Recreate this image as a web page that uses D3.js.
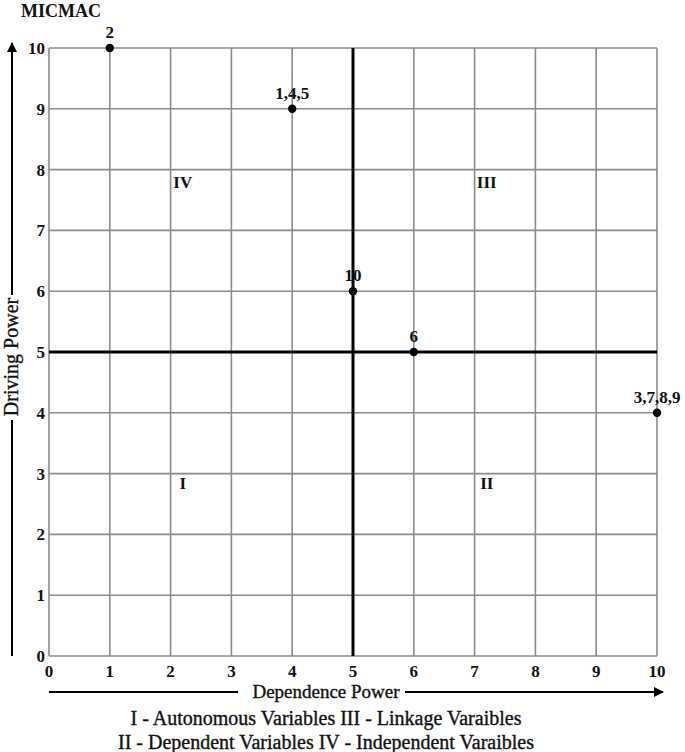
<!DOCTYPE html>
<html><head><meta charset="utf-8">
<script src="https://cdn.jsdelivr.net/npm/d3@7"></script>
<style>body{margin:0;background:#fff}svg{display:block}</style>
</head><body><svg id="c" width="685" height="752" font-family="'Liberation Serif','Times New Roman','DejaVu Serif',serif"></svg>
<script>
const ticks = [0,1,2,3,4,5,6,7,8,9,10];
const pointsX = [1,4,5,6,10];
const pointsY = [10,9,6,5,4];
const pointLabels = ["2","1,4,5","10","6","3,7,8,9"];
const quadNames = ["IV","III","I","II"];
const quadX = [2.2,7.2,2.2,7.2];
const quadY = [7.8,7.8,2.85,2.85];
const legendLines = ["I - Autonomous Variables III - Linkage Varaibles","II - Dependent Variables IV - Independent Varaibles"];

const svg = d3.select("#c");
const x = d3.scaleLinear().domain([0,10]).range([49,657]);
const y = d3.scaleLinear().domain([0,10]).range([656,48]);
const ink = "#111";

// grid
const g = svg.append("g");
g.selectAll("line.v").data(ticks).join("line")
 .attr("x1",d=>x(d)).attr("x2",d=>x(d)).attr("y1",y(0)).attr("y2",y(10))
 .attr("stroke","#8a8a8a").attr("stroke-width",1.6);
g.selectAll("line.h").data(ticks).join("line")
 .attr("y1",d=>y(d)).attr("y2",d=>y(d)).attr("x1",x(0)).attr("x2",x(10))
 .attr("stroke","#8a8a8a").attr("stroke-width",1.6);
// center lines
svg.append("line").attr("x1",x(5)).attr("x2",x(5)).attr("y1",y(0)).attr("y2",y(10)).attr("stroke","#000").attr("stroke-width",3);
svg.append("line").attr("x1",x(0)).attr("x2",x(10)).attr("y1",y(5)).attr("y2",y(5)).attr("stroke","#000").attr("stroke-width",3);

// tick labels
svg.selectAll("text.xt").data(ticks).join("text")
 .attr("x",d=>x(d)).attr("y",y(0)+21).attr("text-anchor","middle").attr("fill",ink)
 .attr("font-size",17).attr("font-weight","bold").text(d=>d);
svg.selectAll("text.yt").data(ticks).join("text")
 .attr("x",x(0)-4).attr("y",d=>y(d)+6).attr("text-anchor","end").attr("fill",ink)
 .attr("font-size",17).attr("font-weight","bold").text(d=>d);

// points
const pts = pointsX.map((d,i)=>({x:d,y:pointsY[i],l:pointLabels[i]}));
svg.selectAll("circle.p").data(pts).join("circle")
 .attr("cx",d=>x(d.x)).attr("cy",d=>y(d.y)).attr("r",4.2).attr("fill","#000");
svg.selectAll("text.pl").data(pts).join("text")
 .attr("x",d=>x(d.x)).attr("y",d=>y(d.y)-10).attr("text-anchor","middle").attr("fill",ink)
 .attr("font-size",17).attr("font-weight","bold").text(d=>d.l);

// quadrant labels
svg.selectAll("text.q").data(quadNames).join("text")
 .attr("x",(d,i)=>x(quadX[i])).attr("y",(d,i)=>y(quadY[i])+6).attr("text-anchor","middle").attr("fill",ink)
 .attr("font-size",17).attr("font-weight","bold").text(d=>d);

// title
svg.append("text").attr("x",21).attr("y",17).attr("font-size",18).attr("font-weight","bold").attr("fill",ink).text("MICMAC");

// arrows
const defs = svg.append("defs");
defs.append("marker").attr("id","ah").attr("viewBox","0 0 10 10").attr("refX",9).attr("refY",5)
 .attr("markerWidth",5).attr("markerHeight",5).attr("orient","auto")
 .append("path").attr("d","M0,0L10,5L0,10Z").attr("fill","#000");

// y axis arrow
const yLabelY = 357;
svg.append("line").attr("x1",12).attr("x2",12).attr("y1",y(0)).attr("y2",yLabelY+63).attr("stroke","#000").attr("stroke-width",2);
svg.append("line").attr("x1",12).attr("x2",12).attr("y1",yLabelY-62).attr("y2",43).attr("stroke","#000").attr("stroke-width",2).attr("marker-end","url(#ah)");
svg.append("text").attr("transform",`translate(18,${yLabelY}) rotate(-90)`).attr("text-anchor","middle").attr("fill",ink)
 .attr("stroke",ink).attr("stroke-width",0.35)
 .attr("font-size",20).text("Driving Power");

// x axis arrow
const xLabelX = 326, xArrowY = 692;
svg.append("line").attr("x1",x(0)).attr("x2",xLabelX-88).attr("y1",xArrowY).attr("y2",xArrowY).attr("stroke","#000").attr("stroke-width",2);
svg.append("line").attr("x1",xLabelX+79).attr("x2",x(10)+6).attr("y1",xArrowY).attr("y2",xArrowY).attr("stroke","#000").attr("stroke-width",2).attr("marker-end","url(#ah)");
svg.append("text").attr("x",xLabelX).attr("y",xArrowY+6).attr("text-anchor","middle").attr("font-size",19)
 .attr("stroke",ink).attr("stroke-width",0.35).attr("fill",ink).text("Dependence Power");

// legend
svg.selectAll("text.lg").data(legendLines).join("text")
 .attr("x",xLabelX).attr("y",(d,i)=>725+i*24).attr("text-anchor","middle").attr("font-size",20)
 .attr("stroke",ink).attr("stroke-width",0.35).attr("fill",ink).text(d=>d);
</script></body></html>
